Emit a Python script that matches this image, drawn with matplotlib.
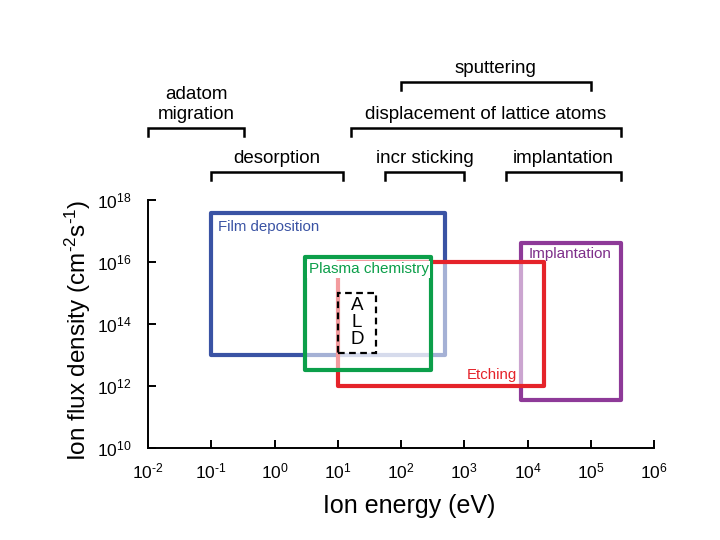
import numpy as np
import matplotlib
matplotlib.use('Agg')
import matplotlib.pyplot as plt
from matplotlib.patches import Rectangle

plt.rcParams['font.family'] = ['Liberation Sans', 'DejaVu Sans']
plt.rcParams['mathtext.fontset'] = 'custom'
plt.rcParams['mathtext.rm'] = 'Liberation Sans'
plt.rcParams['mathtext.it'] = 'Liberation Sans'
plt.rcParams['mathtext.default'] = 'regular'
plt.rcParams['axes.unicode_minus'] = False

# process windows (ion energy in eV, ion flux in cm^-2 s^-1)
box_names = ['Film deposition', 'Implantation', 'Etching', 'Plasma chemistry']
box_e_lo = [0.1, 8e3, 10, 3]
box_e_hi = [500, 3e5, 1.8e4, 300]
box_f_lo = [1e13, 3.5e11, 1e12, 3.3e12]
box_f_hi = [3.8e17, 4e16, 1e16, 1.5e16]
box_colors = ['#3a53a4', '#8e3a98', '#e5232a', '#0c9f4a']

ald_e = [10, 40]
ald_f = [1.2e13, 1e15]

# surface processes vs ion energy (brackets above the plot)
proc_names = ['adatom\nmigration', 'desorption', 'displacement of lattice atoms',
              'sputtering', 'incr sticking', 'implantation']
proc_e_lo = [0.01, 0.1, 16, 100, 55, 4.5e3]
proc_e_hi = [0.33, 12, 3e5, 1e5, 1000, 3e5]
proc_row = [1, 0, 1, 2, 0, 0]
row_y = [1.113, 1.29, 1.476]

x_exp = list(range(-2, 7))
y_exp = list(range(10, 19, 2))

fig = plt.figure(figsize=(7.2, 5.4), dpi=100)
ax = fig.add_axes([0.2056, 0.1704, 0.7028, 0.4593])
ax.set_xscale('log')
ax.set_yscale('log')
ax.set_xlim(1e-2, 1e6)
ax.set_ylim(1e10, 1e18)

for i in range(len(box_names)):
    r = Rectangle((box_e_lo[i], box_f_lo[i]), box_e_hi[i] - box_e_lo[i],
                  box_f_hi[i] - box_f_lo[i], facecolor=(1, 1, 1, 0.55),
                  edgecolor=box_colors[i], lw=3, zorder=2 + i, joinstyle='round')
    ax.add_patch(r)

# box labels
ax.annotate('Film deposition', (box_e_lo[0], box_f_hi[0]), xytext=(5, -5),
            textcoords='offset points', ha='left', va='top', color=box_colors[0],
            fontsize=10.8, zorder=10)
ax.annotate('Implantation', (box_e_lo[1], box_f_hi[1]), xytext=(5, -2.5),
            textcoords='offset points', ha='left', va='top', color='#7e2f8a',
            fontsize=11, zorder=10)
ax.annotate('Etching', (box_e_hi[2], box_f_lo[2]), xytext=(-19, 3),
            textcoords='offset points', ha='right', va='bottom', color=box_colors[2],
            fontsize=10.8, zorder=10)
ax.annotate('Plasma chemistry', (box_e_lo[3], box_f_hi[3]), xytext=(3, -4),
            textcoords='offset points', ha='left', va='top', color=box_colors[3],
            fontsize=11, zorder=10,
            bbox=dict(boxstyle='square,pad=0.1', fc='white', ec='none'))

ald = Rectangle((ald_e[0], ald_f[0]), ald_e[1] - ald_e[0], ald_f[1] - ald_f[0],
                fill=False, edgecolor='black', lw=1.6, ls=(0, (3, 2)), zorder=11)
ax.add_patch(ald)
ald_x = np.sqrt(ald_e[0] * ald_e[1])
ald_y = np.sqrt(ald_f[0] * ald_f[1])
ax.text(ald_x, ald_y, 'A\nL\nD', ha='center', va='center', fontsize=13.5,
        linespacing=1.0, zorder=12)

# brackets
tr = ax.get_xaxis_transform()
for i in range(len(proc_names)):
    y = row_y[proc_row[i]]
    ax.plot([proc_e_lo[i], proc_e_lo[i], proc_e_hi[i], proc_e_hi[i]],
            [y - 0.032, y, y, y - 0.032], color='black', lw=1.8,
            transform=tr, clip_on=False, solid_joinstyle='miter')
    xm = np.sqrt(proc_e_lo[i] * proc_e_hi[i])
    ax.annotate(proc_names[i], (xm, y), xycoords=tr, xytext=(0, 3.5),
                textcoords='offset points', ha='center', va='bottom',
                fontsize=13.5, linespacing=1.25)

for s in ['top', 'right']:
    ax.spines[s].set_visible(False)
for s in ['left', 'bottom']:
    ax.spines[s].set_linewidth(1.4)

ax.set_xticks([10.0 ** k for k in x_exp])
ax.set_xticklabels([r'10$^{\text{%d}}$' % k for k in x_exp])
ax.set_yticks([10.0 ** k for k in y_exp])
ax.set_yticklabels([r'10$^{\text{%d}}$' % k for k in y_exp])
ax.minorticks_off()
ax.tick_params(direction='in', length=6, width=1.4, labelsize=12.5)
ax.tick_params(axis='x', pad=10)
ax.tick_params(axis='y', pad=12)

ax.set_xlabel('Ion energy (eV)', fontsize=18, labelpad=9)
ax.set_ylabel(r'Ion flux density (cm$^{\text{-2}}$s$^{\text{-1}}$)', fontsize=17.5, labelpad=3)
ax.xaxis.label.set_x(0.516)
ax.yaxis.label.set_y(0.476)

fig.savefig('out.png', dpi=100)
